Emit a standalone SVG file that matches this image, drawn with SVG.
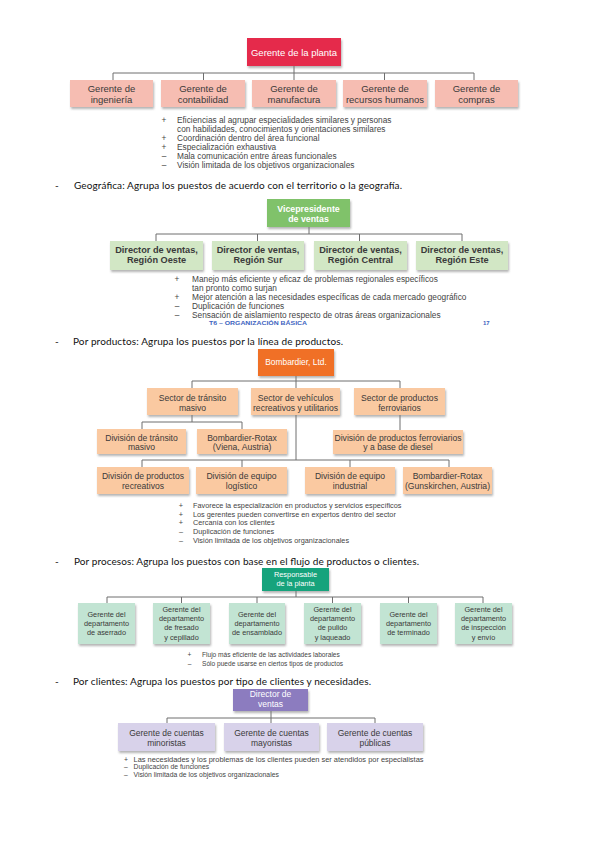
<svg xmlns="http://www.w3.org/2000/svg" width="599" height="848" viewBox="0 0 599 848">
<defs>
<filter id="sh" x="-10%" y="-10%" width="125%" height="140%">
<feDropShadow dx="1" dy="2" stdDeviation="1.2" flood-color="#777" flood-opacity="0.55"/>
</filter>
</defs>
<style>
text{font-family:"Liberation Sans",Arial,sans-serif;}
.n rect{filter:url(#sh);}
.c{fill:none;stroke:#6e6e6e;stroke-width:1;}
.t{text-anchor:middle;fill:#3a3a3a;}
.w{text-anchor:middle;fill:#ffffff;}
.b{fill:#444;}
.s{fill:#444;text-anchor:middle;}
.h{font-family:Lato,"Liberation Sans",sans-serif;font-size:10px;fill:#111;}
.f1 rect{fill:#F6BDB2;}
.f2 rect{fill:#D2E7C5;}
.f3 rect{fill:#FAC9A1;}
.f4 rect{fill:#C2E4D3;}
.f5 rect{fill:#D8D2EA;}
.blue{fill:#4063c0;font-weight:bold;font-size:6px;}
</style>
<rect width="599" height="848" fill="#ffffff"/>

<g id="connectors">
<path class="c" d="M294 66V73M113 73H474M113 73V80M203.5 73V80M294 73V80M384.5 73V80M474 73V80"/>
<path class="c" d="M309 227V234M156 234H462M156 234V241M257.5 234V241M359.5 234V241M462 234V241"/>
<path class="c" d="M296 376V388M192 381H400M192 381V388M400 381V388M192 415V422M142 422H242M142 422V429M242 422V429M400 415V430M296 415V460M142 460H449M142 460V467M242 460V467M350 460V467M449 460V467"/>
<path class="c" d="M296 591V597M107 597H483M107 597V603M181.5 597V603M257 597V603M332.5 597V603M408.5 597V603M483 597V603"/>
<path class="c" d="M271 711V718M167 718H375M167 718V723M271 718V723M375 718V723"/>
</g>

<!-- Chart 1 -->
<g id="n-planta" class="n"><rect x="247" y="38" width="94" height="28" fill="#E52A4B"/><text class="w" x="294" y="55.5" font-size="9.5">Gerente de la planta</text></g>
<g id="n-ing" class="n f1"><rect x="70" y="80" width="83" height="27"/><text class="t" font-size="9.5"><tspan x="111.5" y="92">Gerente de</tspan><tspan x="111.5" y="102.5">ingeniería</tspan></text></g>
<g id="n-cont" class="n f1"><rect x="161" y="80" width="84" height="27"/><text class="t" font-size="9.5"><tspan x="203" y="92">Gerente de</tspan><tspan x="203" y="102.5">contabilidad</tspan></text></g>
<g id="n-manu" class="n f1"><rect x="252" y="80" width="84" height="27"/><text class="t" font-size="9.5"><tspan x="294" y="92">Gerente de</tspan><tspan x="294" y="102.5">manufactura</tspan></text></g>
<g id="n-rrhh" class="n f1"><rect x="343" y="80" width="84" height="27"/><text class="t" font-size="9.5"><tspan x="385" y="92">Gerente de</tspan><tspan x="385" y="102.5">recursos humanos</tspan></text></g>
<g id="n-comp" class="n f1"><rect x="435" y="80" width="83" height="27"/><text class="t" font-size="9.5"><tspan x="476.5" y="92">Gerente de</tspan><tspan x="476.5" y="102.5">compras</tspan></text></g>

<g id="bullets1" font-size="8.3">
<text class="s" x="164" y="122.5">+</text><text class="b" x="177" y="122.5">Eficiencias al agrupar especialidades similares y personas</text>
<text class="b" x="177" y="131.5">con habilidades, conocimientos y orientaciones similares</text>
<text class="s" x="164" y="140.5">+</text><text class="b" x="177" y="140.5">Coordinación dentro del área funcional</text>
<text class="s" x="164" y="149.5">+</text><text class="b" x="177" y="149.5">Especialización exhaustiva</text>
<text class="s" x="164" y="158.5">–</text><text class="b" x="177" y="158.5">Mala comunicación entre áreas funcionales</text>
<text class="s" x="164" y="167.5">–</text><text class="b" x="177" y="167.5">Visión limitada de los objetivos organizacionales</text>
</g>

<text class="h" x="55" y="189">-</text>
<text class="h" x="74" y="189" textLength="328" lengthAdjust="spacing">Geográfica: Agrupa los puestos de acuerdo con el territorio o la geografía.</text>

<!-- Chart 2 -->
<g id="n-vp" class="n"><rect x="267" y="199" width="83" height="28" fill="#80C26B"/><text class="w" font-size="8.8" font-weight="bold"><tspan x="308.5" y="212">Vicepresidente</tspan><tspan x="308.5" y="222">de ventas</tspan></text></g>
<g id="n-oeste" class="n f2"><rect x="110" y="241" width="93" height="29"/><text class="t" font-size="9.2" font-weight="bold"><tspan x="156.5" y="252.5">Director de ventas,</tspan><tspan x="156.5" y="263.3">Región Oeste</tspan></text></g>
<g id="n-sur" class="n f2"><rect x="212" y="241" width="92" height="29"/><text class="t" font-size="9.2" font-weight="bold"><tspan x="258" y="252.5">Director de ventas,</tspan><tspan x="258" y="263.3">Región Sur</tspan></text></g>
<g id="n-central" class="n f2"><rect x="314" y="241" width="93" height="29"/><text class="t" font-size="9.2" font-weight="bold"><tspan x="360.5" y="252.5">Director de ventas,</tspan><tspan x="360.5" y="263.3">Región Central</tspan></text></g>
<g id="n-este" class="n f2"><rect x="416" y="241" width="92" height="29"/><text class="t" font-size="9.2" font-weight="bold"><tspan x="462" y="252.5">Director de ventas,</tspan><tspan x="462" y="263.3">Región Este</tspan></text></g>

<g id="bullets2" font-size="8.3">
<text class="s" x="177" y="282">+</text><text class="b" x="192" y="282">Manejo más eficiente y eficaz de problemas regionales específicos</text>
<text class="b" x="192" y="291">tan pronto como surjan</text>
<text class="s" x="177" y="300">+</text><text class="b" x="192" y="300">Mejor atención a las necesidades específicas de cada mercado geográfico</text>
<text class="s" x="177" y="309">–</text><text class="b" x="192" y="309">Duplicación de funciones</text>
<text class="s" x="177" y="317.5">–</text><text class="b" x="192" y="317.5">Sensación de aislamiento respecto de otras áreas organizacionales</text>
</g>
<text class="blue" x="209" y="324.5" textLength="98" lengthAdjust="spacingAndGlyphs">T6 – ORGANIZACIÓN BÁSICA</text>
<text class="blue" x="483" y="324.5">17</text>

<text class="h" x="55" y="344.5">-</text>
<text class="h" x="73" y="344.5" textLength="270" lengthAdjust="spacing">Por productos: Agrupa los puestos por la línea de productos.</text>

<!-- Chart 3 -->
<g id="n-bomb" class="n"><rect x="258" y="349" width="76" height="27" fill="#F07027"/><text class="w" x="296" y="365.2" font-size="8.4">Bombardier, Ltd.</text></g>
<g id="n-sec1" class="n f3"><rect x="147" y="388" width="91" height="27"/><text class="t" font-size="8.6"><tspan x="192.5" y="400.5">Sector de tránsito</tspan><tspan x="192.5" y="410.5">masivo</tspan></text></g>
<g id="n-sec2" class="n f3"><rect x="251" y="388" width="89" height="27"/><text class="t" font-size="8.6"><tspan x="295.5" y="400.5">Sector de vehículos</tspan><tspan x="295.5" y="410.5">recreativos y utilitarios</tspan></text></g>
<g id="n-sec3" class="n f3"><rect x="354" y="388" width="91" height="27"/><text class="t" font-size="8.6"><tspan x="399.5" y="400.5">Sector de productos</tspan><tspan x="399.5" y="410.5">ferroviarios</tspan></text></g>
<g id="n-dtm" class="n f3"><rect x="97" y="429" width="89" height="25"/><text class="t" font-size="8.6"><tspan x="141.5" y="440.5">División de tránsito</tspan><tspan x="141.5" y="450">masivo</tspan></text></g>
<g id="n-brv" class="n f3"><rect x="197" y="429" width="90" height="25"/><text class="t" font-size="8.6"><tspan x="242" y="440.5">Bombardier-Rotax</tspan><tspan x="242" y="450">(Viena, Austria)</tspan></text></g>
<g id="n-dpf" class="n f3"><rect x="333" y="430" width="130" height="24"/><text class="t" font-size="8.6"><tspan x="398" y="440.5">División de productos ferroviarios</tspan><tspan x="398" y="450">y a base de diesel</tspan></text></g>
<g id="n-dpr" class="n f3"><rect x="97" y="467" width="92" height="27"/><text class="t" font-size="8.6"><tspan x="143" y="479">División de productos</tspan><tspan x="143" y="489">recreativos</tspan></text></g>
<g id="n-del" class="n f3"><rect x="196" y="467" width="91" height="27"/><text class="t" font-size="8.6"><tspan x="241.5" y="479">División de equipo</tspan><tspan x="241.5" y="489">logístico</tspan></text></g>
<g id="n-dei" class="n f3"><rect x="305" y="467" width="90" height="27"/><text class="t" font-size="8.6"><tspan x="350" y="479">División de equipo</tspan><tspan x="350" y="489">industrial</tspan></text></g>
<g id="n-brg" class="n f3"><rect x="403" y="467" width="89" height="27"/><text class="t" font-size="8.6"><tspan x="447.5" y="479">Bombardier-Rotax</tspan><tspan x="447.5" y="489">(Gunskirchen, Austria)</tspan></text></g>

<g id="bullets3" font-size="7.3">
<text class="s" x="181" y="507.6">+</text><text class="b" x="193" y="507.6">Favorece la especialización en productos y servicios específicos</text>
<text class="s" x="181" y="516.6">+</text><text class="b" x="193" y="516.6">Los gerentes pueden convertirse en expertos dentro del sector</text>
<text class="s" x="181" y="525.4">+</text><text class="b" x="193" y="525.4">Cercanía con los clientes</text>
<text class="s" x="181" y="534">–</text><text class="b" x="193" y="534">Duplicación de funciones</text>
<text class="s" x="181" y="543">–</text><text class="b" x="193" y="543">Visión limitada de los objetivos organizacionales</text>
</g>

<text class="h" x="55" y="564.5">-</text>
<text class="h" x="74" y="564.5" textLength="345" lengthAdjust="spacing">Por procesos: Agrupa los puestos con base en el flujo de productos o clientes.</text>

<!-- Chart 4 -->
<g id="n-resp" class="n"><rect x="262" y="568" width="67" height="23" fill="#13A37B"/><text class="w" font-size="7.4"><tspan x="295.5" y="577">Responsable</tspan><tspan x="295.5" y="586">de la planta</tspan></text></g>
<g id="n-aserr" class="n f4"><rect x="78" y="603" width="57" height="41"/><text class="t" font-size="7.3"><tspan x="106.5" y="617">Gerente del</tspan><tspan x="106.5" y="626">departamento</tspan><tspan x="106.5" y="635">de aserrado</tspan></text></g>
<g id="n-fres" class="n f4"><rect x="153" y="603" width="57" height="41"/><text class="t" font-size="7.3"><tspan x="181.5" y="612">Gerente del</tspan><tspan x="181.5" y="621">departamento</tspan><tspan x="181.5" y="630.3">de fresado</tspan><tspan x="181.5" y="639.8">y cepillado</tspan></text></g>
<g id="n-ens" class="n f4"><rect x="229" y="603" width="56" height="41"/><text class="t" font-size="7.3"><tspan x="257" y="617">Gerente del</tspan><tspan x="257" y="626">departamento</tspan><tspan x="257" y="635">de ensamblado</tspan></text></g>
<g id="n-pul" class="n f4"><rect x="304" y="603" width="57" height="41"/><text class="t" font-size="7.3"><tspan x="332.5" y="612">Gerente del</tspan><tspan x="332.5" y="621">departamento</tspan><tspan x="332.5" y="630.3">de pulido</tspan><tspan x="332.5" y="639.8">y laqueado</tspan></text></g>
<g id="n-term" class="n f4"><rect x="380" y="603" width="57" height="41"/><text class="t" font-size="7.3"><tspan x="408.5" y="617">Gerente del</tspan><tspan x="408.5" y="626">departamento</tspan><tspan x="408.5" y="635">de terminado</tspan></text></g>
<g id="n-insp" class="n f4"><rect x="455" y="603" width="57" height="41"/><text class="t" font-size="7.3"><tspan x="483.5" y="612">Gerente del</tspan><tspan x="483.5" y="621">departamento</tspan><tspan x="483.5" y="630.3">de inspección</tspan><tspan x="483.5" y="639.8">y envío</tspan></text></g>

<g id="bullets4" font-size="6.6">
<text class="s" x="189.5" y="656.5">+</text><text class="b" x="202" y="656.5">Flujo más eficiente de las actividades laborales</text>
<text class="s" x="189.5" y="665.5">–</text><text class="b" x="202" y="665.5">Sólo puede usarse en ciertos tipos de productos</text>
</g>

<text class="h" x="55" y="685">-</text>
<text class="h" x="73" y="685" textLength="298" lengthAdjust="spacing">Por clientes: Agrupa los puestos por tipo de clientes y necesidades.</text>

<!-- Chart 5 -->
<g id="n-dir" class="n"><rect x="233" y="689" width="75" height="22" fill="#8C7BBF"/><text class="w" font-size="8.5"><tspan x="270.5" y="697.3">Director de</tspan><tspan x="270.5" y="707">ventas</tspan></text></g>
<g id="n-min" class="n f5"><rect x="118" y="723" width="97" height="28"/><text class="t" font-size="8.5"><tspan x="166.5" y="736.3">Gerente de cuentas</tspan><tspan x="166.5" y="745.8">minoristas</tspan></text></g>
<g id="n-may" class="n f5"><rect x="224" y="723" width="95" height="28"/><text class="t" font-size="8.5"><tspan x="271.5" y="736.3">Gerente de cuentas</tspan><tspan x="271.5" y="745.8">mayoristas</tspan></text></g>
<g id="n-pub" class="n f5"><rect x="327" y="723" width="96" height="28"/><text class="t" font-size="8.5"><tspan x="375" y="736.3">Gerente de cuentas</tspan><tspan x="375" y="745.8">públicas</tspan></text></g>

<g id="bullets5" font-size="6.8">
<text class="s" x="126" y="761.5">+</text><text class="b" x="133.5" y="761.5" textLength="290" lengthAdjust="spacingAndGlyphs">Las necesidades y los problemas de los clientes pueden ser atendidos por especialistas</text>
<text class="s" x="126" y="769.3">–</text><text class="b" x="133.5" y="769.3">Duplicación de funciones</text>
<text class="s" x="126" y="777.1">–</text><text class="b" x="133.5" y="777.1">Visión limitada de los objetivos organizacionales</text>
</g>
</svg>
